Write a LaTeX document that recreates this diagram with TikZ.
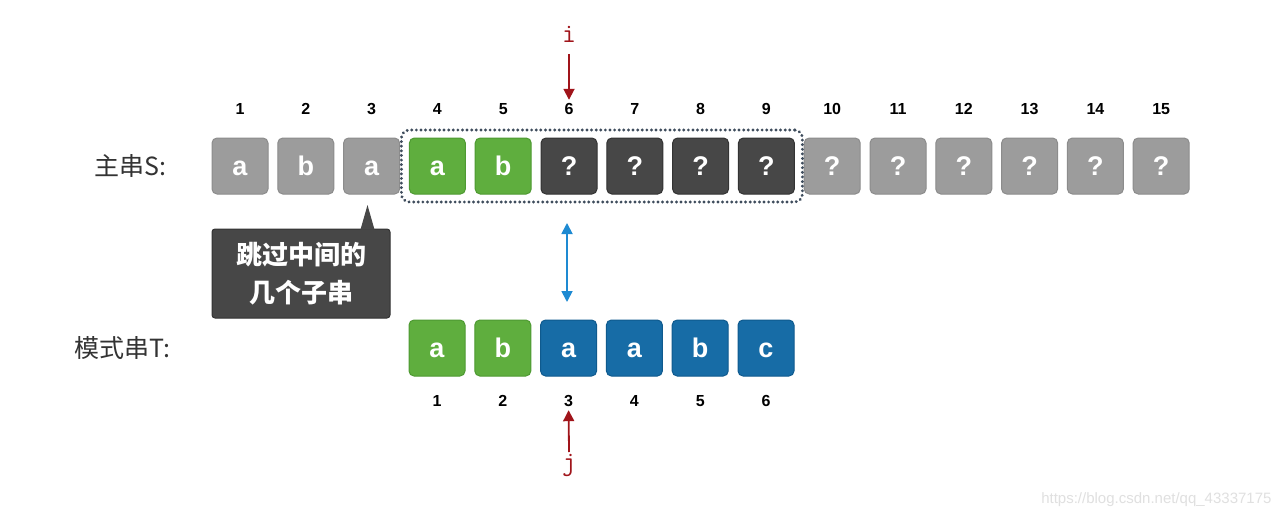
\documentclass[tikz,border=0pt]{standalone}
\usepackage{fontspec}
\setmainfont{Liberation Sans}
\newfontfamily\cjk{Noto Sans CJK SC}
\usetikzlibrary{fit,arrows.meta}
\definecolor{lgray}{HTML}{9C9C9C}
\definecolor{lgrayb}{HTML}{8C8C8C}
\definecolor{dgray}{HTML}{474747}
\definecolor{dgrayb}{HTML}{333333}
\definecolor{mygreen}{HTML}{5FAE3E}
\definecolor{mygreenb}{HTML}{4E9A32}
\definecolor{myblue}{HTML}{176CA6}
\definecolor{mybluerb}{HTML}{0F5A8E}
\definecolor{myred}{HTML}{A0141A}
\definecolor{arrblue}{HTML}{1E8AD2}
\definecolor{dotc}{HTML}{3E4C5C}
\definecolor{txt}{HTML}{333333}
\tikzset{
  cell/.style={minimum width=56pt, minimum height=56pt, inner sep=0pt, rounded corners=5pt,
    text=white, font=\fontsize{27}{27}\selectfont\bfseries, line width=1pt,
    text height=19pt, text depth=0pt},
  grayc/.style={cell, fill=lgray, draw=lgrayb},
  darkc/.style={cell, fill=dgray, draw=dgrayb},
  greenc/.style={cell, fill=mygreen, draw=mygreenb},
  bluec/.style={cell, fill=myblue, draw=mybluerb},
  num/.style={font=\fontsize{16}{16}\selectfont\bfseries, text=black},
  rowlab/.style={font=\cjk\fontsize{25}{25}\selectfont, text=txt},
  ptr/.style={font=\ttfamily\fontsize{27}{27}\selectfont, text=myred},
}
\begin{document}
\begin{tikzpicture}[x=1pt,y=-1pt]
\useasboundingbox[fill=white] (0,0) rectangle (1283,519);
% main string S
\foreach \k/\c/\s in {1/a/grayc,2/b/grayc,3/a/grayc,4/a/greenc,5/b/greenc,6/?/darkc,7/?/darkc,8/?/darkc,9/?/darkc,10/?/grayc,11/?/grayc,12/?/grayc,13/?/grayc,14/?/grayc,15/?/grayc}{
  \node[\s] (s\k) at ({240+65.8*(\k-1)},166) {\c};
  \node[num] (sn\k) at ({240+65.8*(\k-1)},109) {\k};
}
\node[rowlab, anchor=east] (slab) at (170,166) {主串S:};
% dotted window
\node[fit=(s4)(s9), inner sep=7.5pt, draw=dotc, rounded corners=8pt, line width=3.2pt,
      dash pattern=on 0.01pt off 4.6pt, line cap=round] (win) {};
% pattern T
\foreach \k/\c/\s in {1/a/greenc,2/b/greenc,3/a/bluec,4/a/bluec,5/b/bluec,6/c/bluec}{
  \node[\s] (t\k) at ({437+65.8*(\k-1)},348) {\c};
  \node[num] (tn\k) at ({437+65.8*(\k-1)},401) {\k};
}
\node[rowlab, anchor=east] (tlab) at (174,348) {模式串T:};
% i pointer
\node[ptr] (i) at (569,34) {i};
\coordinate (itop) at (569,54);
\draw[myred, line width=1.8pt, -{Triangle[length=11pt,width=11pt]}] (itop) -- (sn6.north);
% j pointer
\node[ptr] (j) at (569,465) {j};
\coordinate (jbot) at (569,452);
\draw[myred, line width=1.8pt, -{Triangle[length=11pt,width=11pt]}] (jbot) -- (tn3.south);
% blue double arrow
\coordinate (ba) at (567,223);
\coordinate (bb) at (567,302);
\draw[arrblue, line width=1.8pt, {Triangle[length=11pt,width=11pt]}-{Triangle[length=11pt,width=11pt]}] (ba) -- (bb);
% tooltip
\node[fill=dgray, draw=dgrayb, line width=1pt, rounded corners=3pt, minimum width=178pt, minimum height=89pt,
      text=white, align=center, inner sep=0pt,
      font=\cjk\fontsize{26}{38}\selectfont\bfseries] (tip) at (301,273.5) {跳过中间的\\几个子串};
\fill[dgray] (360.5,229.6) -- (367.5,205) -- (374.5,229.6) -- cycle;
% watermark
\node[font=\fontsize{15}{15}\selectfont, text=black!12, anchor=east] (wm) at (1275,500) {https://blog.csdn.net/qq\_43337175};
\end{tikzpicture}
\end{document}
